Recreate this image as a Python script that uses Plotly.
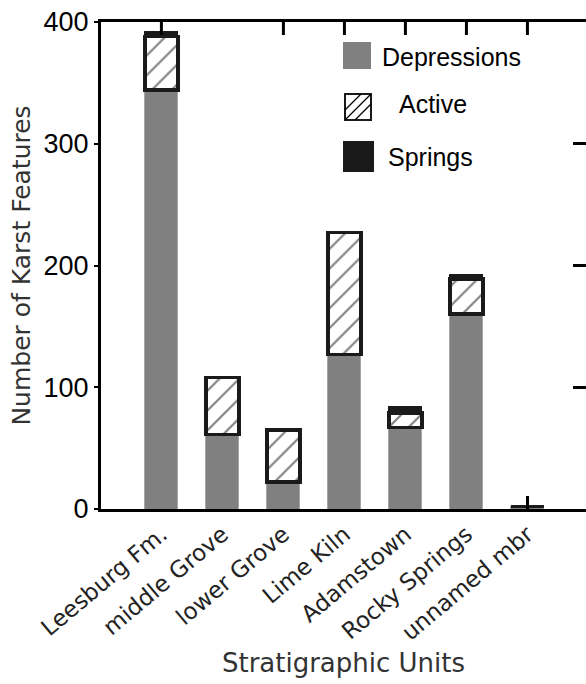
import plotly.graph_objects as go

# Karst feature counts per stratigraphic unit
units = ["Leesburg Fm.", "middle Grove", "lower Grove", "Lime Kiln",
         "Adamstown", "Rocky Springs", "unnamed mbr"]
depressions = [344, 61, 22, 127, 67, 160, 2]
active = [44, 47, 43, 100, 12, 29, 0]
springs = [4, 1, 0, 1, 5, 4, 0]

y_ticks = [0, 100, 200, 300, 400]
# top edge: a tick over every unit except middle Grove
top_ticks = [u for u in units if u != "middle Grove"]
# bottom edge: ticks only show where the column is too short to hide them
bottom_ticks = [units.index("unnamed mbr")]

GREY = "#808080"
INK = "#1a1a1a"
SANS = "Liberation Sans, Arial, sans-serif"
ROUND = "DejaVu Sans, sans-serif"

# plot-area geometry in pixels (used for the hand-drawn key)
W, H = 586, 684
L, R, T, B = 101, 0, 22, 175
PW, PH = W - L - R, H - T - B
X_RANGE = [-0.99, 6.96]
TICK_LEN = 13


def px(x):
    return (x - L) / PW


def py(y):
    return (H - B - y) / PH


fig = go.Figure()

fig.add_trace(go.Bar(
    x=units, y=depressions, name="Depressions",
    marker=dict(color=GREY, line=dict(color="#a6a6a6", width=1)),
    width=0.54, showlegend=False,
))
fig.add_trace(go.Bar(
    x=units, y=active, name="Active",
    marker=dict(color="white", line=dict(color=INK, width=3.5),
                pattern=dict(shape="/", fgcolor="black", bgcolor="white",
                             size=14, solidity=0.15)),
    width=0.54, showlegend=False,
))
fig.add_trace(go.Bar(
    x=units, y=springs, name="Springs",
    marker=dict(color=INK, line=dict(color=INK, width=1)),
    width=0.54, showlegend=False,
))
# invisible carriers for the extra tick-only axes
fig.add_trace(go.Scatter(
    x=[units[0]], y=[0], xaxis="x", yaxis="y2", mode="markers",
    marker=dict(opacity=0), showlegend=False, hoverinfo="skip",
))
fig.add_trace(go.Scatter(
    x=[0], y=[0], xaxis="x3", yaxis="y", mode="markers",
    marker=dict(opacity=0), showlegend=False, hoverinfo="skip",
))

# key: swatches and labels
shapes = [
    dict(type="rect", xref="paper", yref="paper",
         x0=px(343), x1=px(371), y0=py(42), y1=py(69),
         fillcolor=GREY, line=dict(width=0)),
    dict(type="rect", xref="paper", yref="paper",
         x0=px(345), x1=px(371), y0=py(94), y1=py(120),
         fillcolor="white", line=dict(color=INK, width=2)),
    dict(type="rect", xref="paper", yref="paper",
         x0=px(343), x1=px(374), y0=py(141), y1=py(172),
         fillcolor=INK, line=dict(width=0)),
]
for off in (-10, 0, 10):
    x0, y0 = 345 + max(off, 0), 120 - max(-off, 0)
    x1, y1 = 371 - max(-off, 0), 94 + max(off, 0)
    shapes.append(dict(type="line", xref="paper", yref="paper",
                       x0=px(x0), y0=py(y0), x1=px(x1), y1=py(y1),
                       line=dict(color="black", width=1.2)))

# inward ticks hanging from the top frame line
for u in top_ticks:
    shapes.append(dict(type="line", xref="x", yref="y domain",
                       x0=u, x1=u, y0=1, y1=1 - TICK_LEN / PH,
                       line=dict(color="black", width=3)))

key_labels = [("Depressions", 380, 57), ("Active", 397, 104), ("Springs", 386, 157)]
annotations = [
    dict(text=t, x=px(x), y=py(y), xref="paper", yref="paper",
         xanchor="left", yanchor="middle", showarrow=False,
         font=dict(family=SANS, size=25, color="black"))
    for t, x, y in key_labels
]

tick_style = dict(ticks="inside", ticklen=TICK_LEN, tickwidth=3, tickcolor="black",
                  showgrid=False, zeroline=False)

fig.update_layout(
    width=W, height=H,
    margin=dict(l=L, r=R, t=T, b=B, pad=0, autoexpand=False),
    barmode="stack",
    plot_bgcolor="white", paper_bgcolor="white",
    shapes=shapes, annotations=annotations,
    xaxis=dict(
        type="category", categoryorder="array", categoryarray=units,
        range=X_RANGE,
        showline=True, linecolor="black", linewidth=3, mirror=True,
        ticks="", tickangle=-40,
        tickfont=dict(family=ROUND, size=23, color="#222"),
        title=dict(text="Stratigraphic Units", standoff=10,
                   font=dict(family=ROUND, size=26, color="#333")),
        showgrid=False, zeroline=False,
    ),
    xaxis3=dict(
        type="linear", range=X_RANGE, overlaying="x", side="bottom", anchor="y",
        tickmode="array", tickvals=bottom_ticks, showticklabels=False,
        showline=False, **tick_style,
    ),
    yaxis=dict(
        range=[0, 400], tickvals=y_ticks,
        showline=True, linecolor="black", linewidth=3,
        ticks="outside", ticklen=4, tickwidth=2, tickcolor="black",
        tickfont=dict(family=SANS, size=27, color="black"),
        title=dict(text="Number of Karst Features", standoff=6,
                   font=dict(family=ROUND, size=25, color="#333")),
        showgrid=False, zeroline=False,
    ),
    yaxis2=dict(
        overlaying="y", side="right", anchor="x",
        range=[0, 400], tickvals=y_ticks[1:-1],
        showline=False, showticklabels=False, **tick_style,
    ),
)

fig.write_html("out.html")
